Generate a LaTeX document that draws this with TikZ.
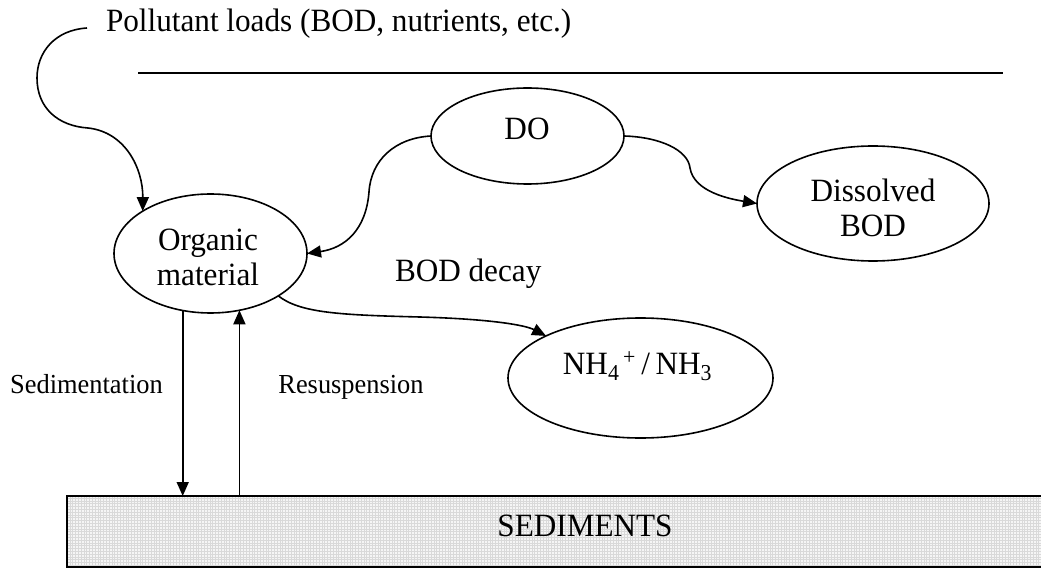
\documentclass[tikz,border=0pt]{standalone}
\usepackage{fontspec}
\setmainfont{Liberation Serif}[FakeStretch=0.96]
\usetikzlibrary{arrows.meta,shapes.geometric}
\begin{document}
\begin{tikzpicture}[x=1pt,y=-1pt,
  every node/.style={inner sep=0pt, outer sep=0pt},
  big/.style={font=\fontsize{32.5}{35.5}\selectfont},
  small/.style={font=\fontsize{27.5}{30}\selectfont},
  pool/.style={draw, ellipse, line width=1.6pt},
  flow/.style={line width=1.6pt, -{Triangle[length=14pt,width=12pt]}},
  plain/.style={line width=1.6pt},
  bed/.style={draw, line width=1.8pt, fill=gray!8,
    path picture={\draw[gray!30, line width=0.35pt]
      (path picture bounding box.south west) grid[step=2.8pt]
      (path picture bounding box.north east);}},
]
\useasboundingbox (0,0) rectangle (1041,569);

% compartments
\node[pool, minimum width=193pt, minimum height=119pt] (org) at (210.5,253.5) {};
\node[pool, minimum width=193pt, minimum height=96pt] (do) at (527.5,136) {};
\node[pool, minimum width=232pt, minimum height=115pt] (dis) at (873,203.5) {};
\node[pool, minimum width=265pt, minimum height=120pt] (nh) at (640.5,378) {};
\node[bed, minimum width=1036pt, minimum height=71pt, anchor=north west] (sed) at (67,496) {};

% compartment names
\node[big, align=center] (orgtxt) at (208,257.5) {Organic\\material};
\node[big, anchor=base] (dotxt) at (527,140) {DO};
\node[big, align=center] (distxt) at (873,208) {Dissolved\\BOD};
\node[big, anchor=base] (nhtxt) at (637.5,374)
  {NH\textsubscript{4}\textsuperscript{\,+}\,/\,NH\textsubscript{3}};
\node[big, anchor=base] (sedtxt) at (585,536) {SEDIMENTS};

% process labels
\node[big, anchor=base west] (loads) at (106,32) {Pollutant loads (BOD, nutrients, etc.)};
\node[big, anchor=base west] (decay) at (395,282) {BOD decay};
\node[small, anchor=base] (settle) at (86.5,393) {Sedimentation};
\node[small, anchor=base] (resus) at (351,393) {Resuspension};

% water surface
\coordinate (surfL) at (138,73);
\coordinate (surfR) at (1003,73);
\draw[plain] (surfL) -- (surfR);

% external loading
\coordinate (loadin) at (87,28);
\draw[flow] (loadin) .. controls (55,30) and (37,52) .. (37,78)
  .. controls (37,108) and (58,126) .. (88,128)
  .. controls (125,132) and (143,168) .. (org.148);

% oxygen links
\draw[flow] (do.west) .. controls (395,138) and (371,160) .. (369,192)
  .. controls (366,230) and (345,248) .. (org.east);
\draw[flow] (do.east) .. controls (660,137) and (688,150) .. (690,168)
  .. controls (694,192) and (730,199) .. (dis.west);

% decay to ammonium
\draw[flow] (org.-32) .. controls (300,313) and (340,315) .. (420,317)
  .. controls (490,319) and (525,325) .. (nh.156);

% exchange with the bed
\draw[flow] (org.-116.6) -- (org.-116.6 |- sed.north);
\draw[flow] (org.-63.4 |- sed.north) -- (org.-63.4);
\end{tikzpicture}
\end{document}
